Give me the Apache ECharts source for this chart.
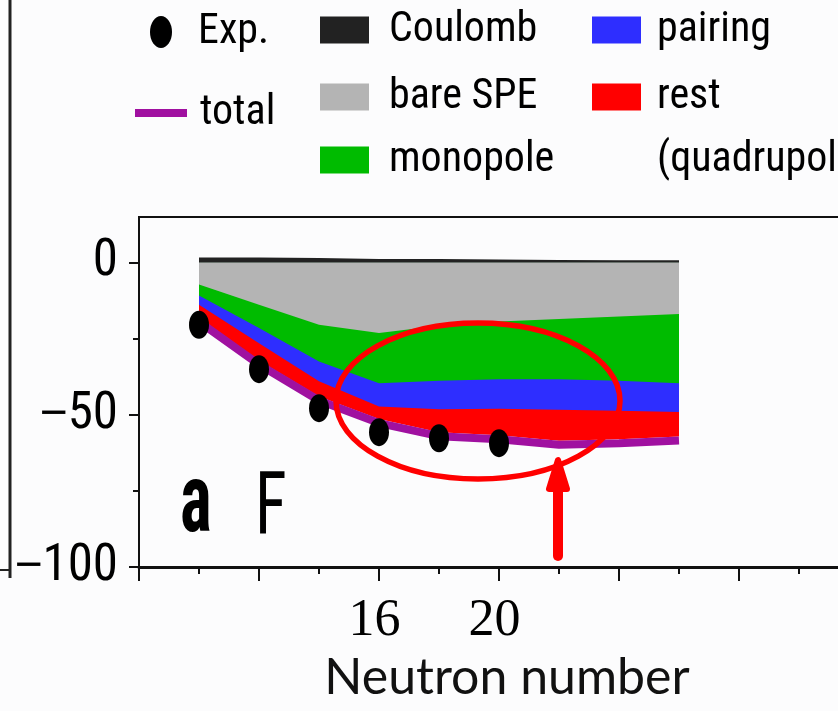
<!DOCTYPE html>
<html>
<head>
<meta charset="utf-8">
<script src="https://cdn.jsdelivr.net/npm/echarts@6/dist/echarts.min.js"></script>
<style>
  html, body { margin: 0; padding: 0; background: #fcfcfd; }
  #chart { width: 838px; height: 711px; }
</style>
</head>
<body>
<div id="chart"></div>
<script>
// Energy contributions (MeV) versus neutron number
const neutrons = [10, 12, 14, 16, 18, 20, 22, 24, 26];
const coulomb  = [1.7, 1.7, 1.5, 1.2, 1.2, 1.0, 0.9, 0.8, 0.8];
const bareSPE  = [-7.2, -13.8, -20.4, -23.1, -20.7, -19.3, -18.5, -17.7, -16.9];
const monopole = [-3.6, -7.7, -12.1, -16.5, -18.1, -19.0, -19.8, -21.1, -22.7];
const pairing  = [-3.0, -5.0, -6.5, -7.7, -9.4, -9.7, -10.0, -9.9, -9.5];
const rest     = [-4.3, -5.7, -5.0, -4.1, -7.5, -8.7, -10.2, -9.3, -8.0];
const total    = [-19.4, -33.5, -45.3, -52.7, -57.0, -58.0, -59.8, -59.3, -58.4];

// Experimental values
const expN      = [10, 12, 14, 16, 18, 20];
const expValues = [-20.4, -35.0, -47.8, -55.7, -57.7, -59.3];

// Axis ticks and labels
const xTickLabels = [16, 20];
const yTickLabels = [-100, -50, 0];
const yMinorTicks = [-75, -25];

const condensed = '"Roboto Condensed", "DejaVu Sans Condensed", sans-serif';
// upright oval marker (aspect kept by the legend, stretched freely in the plot)
const ovalPath = 'path://M0,-16A11,16 0 1 1 0,16A11,16 0 1 1 0,-16Z';

// running sums of the negative contributions, top band first
function cumulative(parts) {
  const out = [];
  let acc = neutrons.map(() => 0);
  parts.forEach(p => {
    acc = acc.map((a, i) => a + p[i]);
    out.push(acc.slice());
  });
  return out;
}
const [cumSPE, cumMono, cumPair, cumRest] = cumulative([bareSPE, monopole, pairing, rest]);

const pairs = vals => neutrons.map((n, i) => [n, vals[i]]);

// each band is filled from zero; deeper bands are drawn first so upper ones cover them
function bandSeries(name, vals, color) {
  return {
    name, type: 'line', data: pairs(vals),
    symbol: 'none', lineStyle: { width: 0, opacity: 0 },
    itemStyle: { color }, areaStyle: { color, opacity: 1, origin: 0 }
  };
}

// one legend component per entry so each can sit at its own spot
function legendItem(name, left, centerY, icon, w, h, gap, text, lh) {
  lh = lh || 50;
  const lines = text ? text.split('\n').length : 1;
  return {
    data: [{ name, icon }], left, top: centerY - lines * lh / 2,
    padding: 0, itemWidth: w, itemHeight: h, selectedMode: false,
    formatter: text ? () => text : undefined,
    textStyle: { fontFamily: condensed, fontSize: 42, color: '#000', lineHeight: lh, padding: [0, 0, 0, gap] }
  };
}

// y tick label with a full-width minus sign
function yLabel(v) {
  return v < 0 ? '{m|\u2212}{d|' + Math.abs(v) + '}' : '{d|' + v + '}';
}

const chart = echarts.init(document.getElementById('chart'));
chart.setOption({
  animation: false,
  backgroundColor: '#fcfcfd',
  grid: {
    left: 139, top: 217, right: -21, bottom: 144, outerBoundsMode: 'none', containLabel: false,
    show: true, borderColor: '#111', borderWidth: 2, backgroundColor: 'transparent'
  },
  legend: [
    legendItem('Exp.', 150, 32, ovalPath, 22, 32, 21),
    legendItem('total', 135, 113, 'rect', 52, 8, 8),
    legendItem('Coulomb', 320, 30, 'rect', 49, 27, 15),
    legendItem('bare SPE', 320, 97, 'rect', 49, 27, 15),
    legendItem('monopole', 320, 160, 'rect', 49, 27, 15),
    legendItem('pairing', 592, 30, 'rect', 49, 27, 11),
    legendItem('rest', 592, 97, 'rect', 49, 27, 11, '\nrest\n(quadrupole)', 63)
  ],
  xAxis: {
    type: 'value', min: 8, max: 32, interval: 4,
    name: 'Neutron number', nameLocation: 'middle', nameGap: 86,
    nameTextStyle: { fontFamily: 'Lato', fontSize: 50, color: '#111', padding: [0, 0, 0, 16] },
    axisLine: { onZero: false, lineStyle: { color: '#111', width: 3 } },
    axisTick: { length: 14, lineStyle: { color: '#111', width: 2 } },
    minorTick: { show: true, splitNumber: 2, length: 7, lineStyle: { color: '#111', width: 2 } },
    axisLabel: { customValues: xTickLabels, margin: 28, fontFamily: '"Liberation Serif", serif', fontSize: 52,
                 color: '#000', padding: [0, 9, 0, 0] },
    splitLine: { show: false }
  },
  yAxis: [
    {
      type: 'value', min: -100, max: 15,
      axisLine: { show: true, onZero: false, lineStyle: { color: '#111', width: 2 } },
      axisTick: { customValues: yTickLabels, length: 10, lineStyle: { color: '#111', width: 2 } },
      axisLabel: {
        customValues: yTickLabels, margin: 21, color: '#000', formatter: yLabel,
        rich: {
          m: { fontFamily: '"Liberation Sans", sans-serif', fontSize: 48, color: '#000' },
          d: { fontFamily: condensed, fontSize: 51, color: '#000' }
        }
      },
      splitLine: { show: false }
    },
    {
      type: 'value', min: -100, max: 15, position: 'left',
      axisLine: { show: false, onZero: false },
      axisTick: { customValues: yMinorTicks, length: 6, lineStyle: { color: '#111', width: 2 } },
      axisLabel: { show: false },
      splitLine: { show: false }
    }
  ],
  series: [
    bandSeries('Coulomb', coulomb, '#222222'),
    bandSeries('rest', cumRest, '#ff0000'),
    bandSeries('pairing', cumPair, '#2e2eff'),
    bandSeries('monopole', cumMono, '#00bb00'),
    bandSeries('bare SPE', cumSPE, '#b4b4b4'),
    {
      name: 'total', type: 'line', data: pairs(total), symbol: 'none',
      itemStyle: { color: '#a010a0' }, lineStyle: { color: '#a010a0', width: 8 }
    },
    {
      name: 'Exp.', type: 'scatter', data: expN.map((n, i) => [n, expValues[i]]),
      symbol: ovalPath, symbolSize: [20, 28], symbolKeepAspect: false,
      itemStyle: { color: '#000', opacity: 1 }, z: 5
    }
  ],
  graphic: [
    // frame edge of the neighbouring panel
    { type: 'line', shape: { x1: 10, y1: 0, x2: 10, y2: 578 }, style: { stroke: '#222', lineWidth: 3 } },
    { type: 'line', shape: { x1: 0, y1: 570, x2: 10, y2: 570 }, style: { stroke: '#222', lineWidth: 2 } },
    // highlight around the N = 20 region
    { type: 'ellipse', shape: { cx: 478, cy: 401, rx: 142, ry: 78 }, style: { fill: 'none', stroke: '#ff0000', lineWidth: 5.5 }, z: 10 },
    { type: 'line', shape: { x1: 558, y1: 556, x2: 558, y2: 482 }, style: { stroke: '#ff0000', lineWidth: 10, lineCap: 'round' }, z: 10 },
    { type: 'polygon', shape: { points: [[558, 460], [549, 489], [567, 489]] }, style: { fill: '#ff0000', stroke: '#ff0000', lineWidth: 6, lineJoin: 'round' }, z: 10 },
    // panel labels
    { type: 'text', x: 180, y: 555, scaleX: 0.7, style: { text: 'a', font: 'bold 96px ' + condensed, fill: '#000', verticalAlign: 'bottom' }, z: 10 },
    { type: 'text', x: 255, y: 555, scaleX: 0.75, style: { text: 'F', font: '88px ' + condensed, fill: '#000', verticalAlign: 'bottom' }, z: 10 }
  ]
});
</script>
</body>
</html>
